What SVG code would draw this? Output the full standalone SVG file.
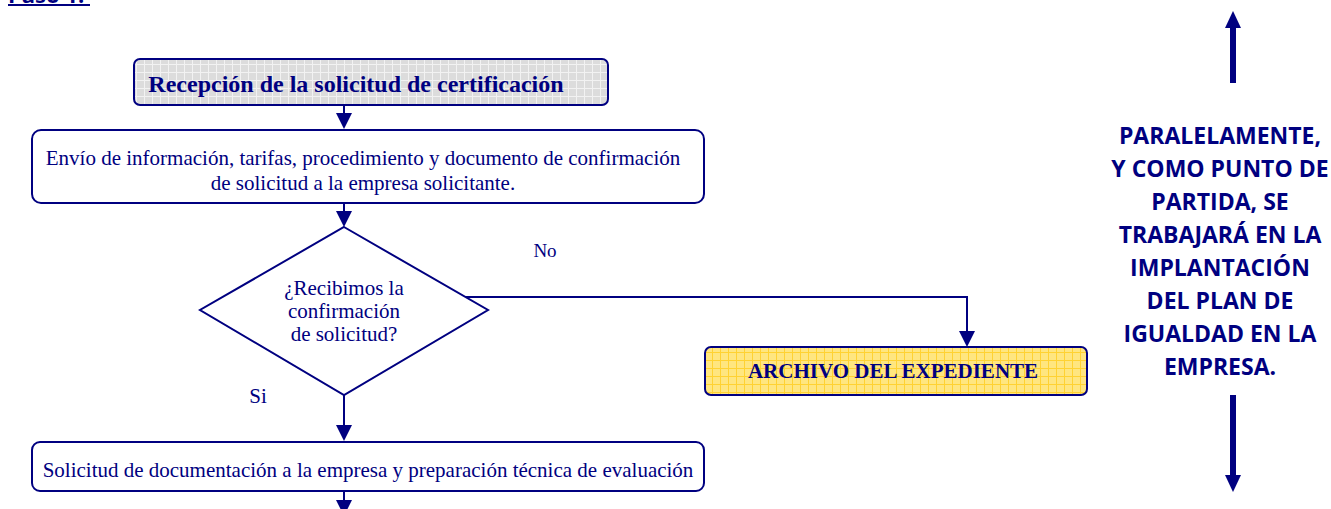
<svg xmlns="http://www.w3.org/2000/svg" width="1331" height="509" viewBox="0 0 1331 509">
<defs>
<style>
.node{stroke:#000080;stroke-width:2}
.t{font-family:"Liberation Serif",serif;fill:#000080;text-anchor:middle;font-size:21px}
.tb{font-family:"Liberation Serif",serif;fill:#000080;text-anchor:middle;font-weight:bold}
.conn{stroke:#000080;stroke-width:2;fill:none}
.head{fill:#000080}
.side{font-family:"Open Sans",sans-serif;font-weight:bold;fill:#000080;text-anchor:middle;font-size:23px}
</style>
<pattern id="gridGray" width="8" height="8" patternUnits="userSpaceOnUse">
<rect width="8" height="8" fill="#dcdcdc"/>
<path d="M0 0.5H8M0.5 0V8" stroke="#f2f2f2" stroke-width="1"/>
</pattern>
<pattern id="gridYellow" width="8" height="8" patternUnits="userSpaceOnUse">
<rect width="8" height="8" fill="#ffe680"/>
<path d="M0 0.5H8M0.5 0V8" stroke="#ffd233" stroke-width="1"/>
</pattern>
</defs>
<rect width="1331" height="509" fill="#ffffff"/>

<g id="title">
<text x="8" y="3" style="font-family:'Open Sans',sans-serif;font-weight:bold;font-size:22px;fill:#000080">Paso 1:</text>
<line x1="8" y1="5" x2="90" y2="5" stroke="#000080" stroke-width="2"/>
</g>

<g id="connectors">
<path class="conn" d="M344 105V115"/>
<path class="conn" d="M344 203V213"/>
<path class="conn" d="M465 297H967V333"/>
<path class="conn" d="M344 395V428"/>
<path class="conn" d="M344 491V502"/>
<path class="head" d="M336 113L352 113L344 129Z"/>
<path class="head" d="M336 211L352 211L344 227Z"/>
<path class="head" d="M959 331L975 331L967 347Z"/>
<path class="head" d="M336 425L352 425L344 441Z"/>
<path class="head" d="M336 500L352 500L344 516Z"/>
</g>

<g id="n1">
<rect class="node" x="134" y="59" width="474" height="46" rx="6" fill="url(#gridGray)"/>
<text class="tb" x="356" y="92" font-size="24">Recepción de la solicitud de certificación</text>
</g>

<g id="n2">
<rect class="node" x="32" y="130" width="672" height="73" rx="9" fill="#ffffff"/>
<text class="t" x="363" y="165">Envío de información, tarifas, procedimiento y documento de confirmación</text>
<text class="t" x="363" y="190">de solicitud a la empresa solicitante.</text>
</g>

<g id="n3">
<path class="node" d="M344 227L488 310L344 395L200 310Z" fill="#ffffff"/>
<text class="t" x="344" y="295">¿Recibimos la</text>
<text class="t" x="344" y="318">confirmación</text>
<text class="t" x="344" y="341">de solicitud?</text>
</g>

<g id="lbl-no"><text class="t" x="545" y="257" font-size="19" style="font-size:19px">No</text></g>
<g id="lbl-si"><text class="t" x="258" y="403">Si</text></g>

<g id="n4">
<rect class="node" x="705" y="347" width="382" height="48" rx="6" fill="url(#gridYellow)"/>
<text class="tb" x="893" y="378" font-size="21">ARCHIVO DEL EXPEDIENTE</text>
</g>

<g id="n5">
<rect class="node" x="32" y="442" width="672" height="49" rx="8" fill="#ffffff"/>
<text class="t" x="368" y="477">Solicitud de documentación a la empresa y preparación técnica de evaluación</text>
</g>

<g id="side">
<path d="M1233 83V27" stroke="#000080" stroke-width="6"/>
<path class="head" d="M1225 28L1241 28L1233 11Z"/>
<path d="M1233 395V476" stroke="#000080" stroke-width="6"/>
<path class="head" d="M1225 475L1241 475L1233 492Z"/>
<text class="side" x="1220" y="144">PARALELAMENTE,</text>
<text class="side" x="1220" y="177">Y COMO PUNTO DE</text>
<text class="side" x="1220" y="210">PARTIDA, SE</text>
<text class="side" x="1220" y="243">TRABAJARÁ EN LA</text>
<text class="side" x="1220" y="276">IMPLANTACIÓN</text>
<text class="side" x="1220" y="309">DEL PLAN DE</text>
<text class="side" x="1220" y="342">IGUALDAD EN LA</text>
<text class="side" x="1220" y="375">EMPRESA.</text>
</g>
</svg>
